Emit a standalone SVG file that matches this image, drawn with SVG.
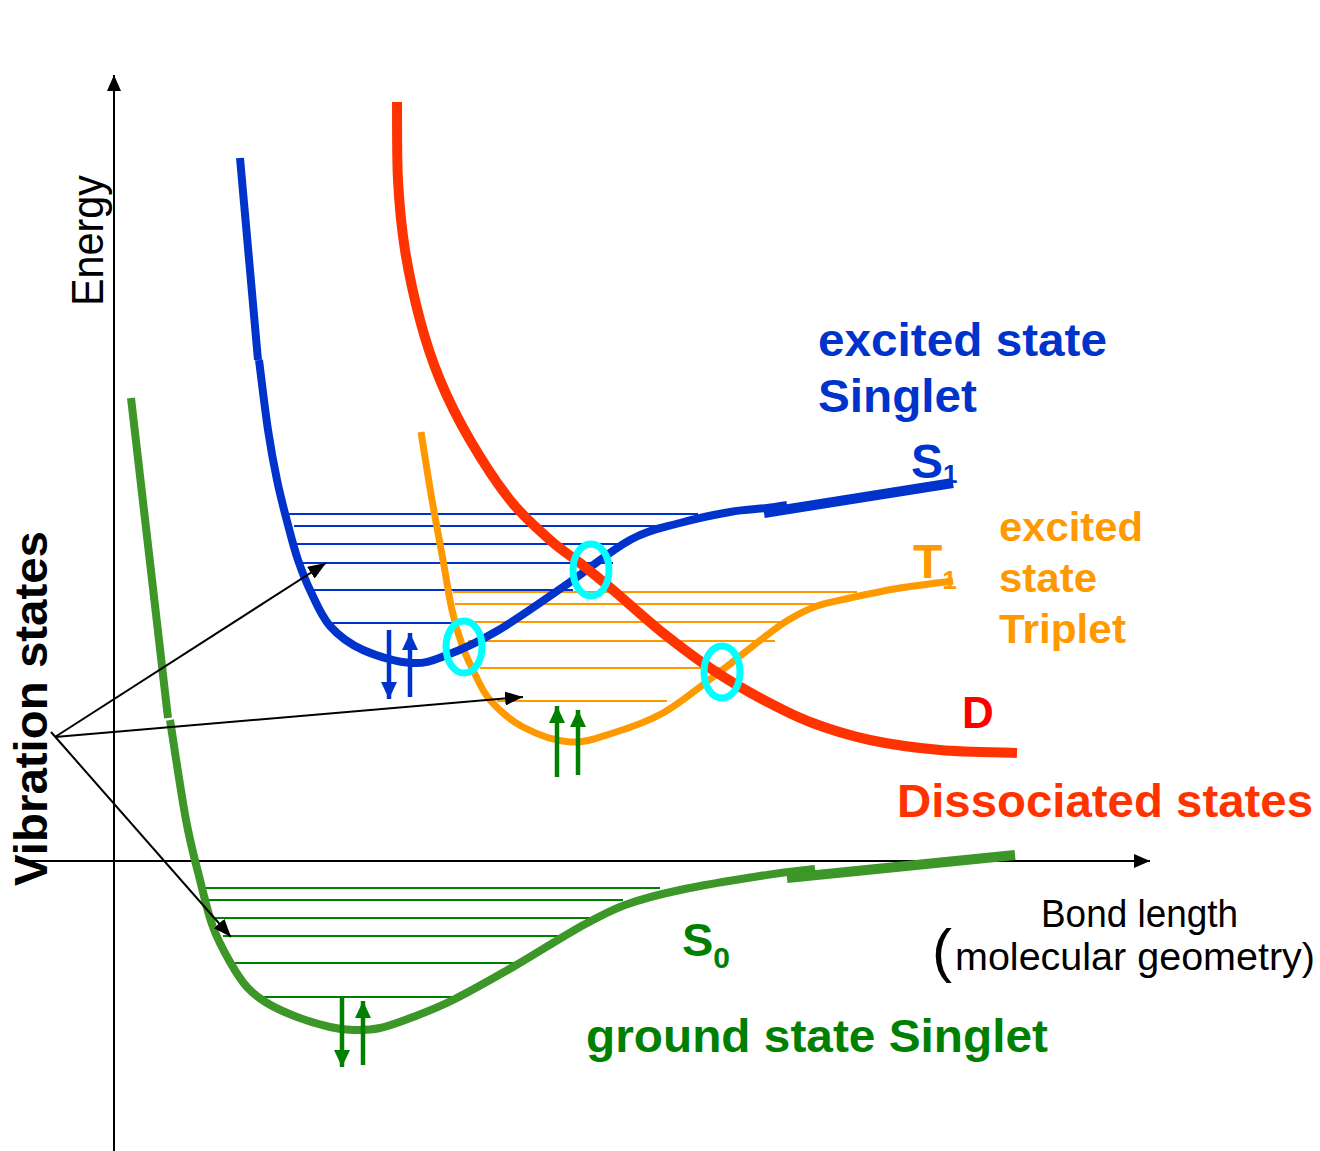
<svg xmlns="http://www.w3.org/2000/svg" width="1320" height="1151" viewBox="0 0 1320 1151">
<style>
.ax{stroke:#000;stroke-width:2;fill:none}
.ptr{stroke:#000;stroke-width:2;fill:none}
.curve{fill:none;stroke-linecap:butt;stroke-linejoin:round}
.lvb{stroke:#0033cc;stroke-width:2}
.lvo{stroke:#ff9900;stroke-width:2}
.lvg{stroke:#008000;stroke-width:2}
.spb{stroke:#0033cc;stroke-width:4.5;fill:none}
.spg{stroke:#008000;stroke-width:4.5;fill:none}
.ell{fill:none;stroke:#00ffff;stroke-width:7}
.lbl{font-family:"Liberation Sans",Arial,sans-serif;font-weight:bold}
.reg{font-family:"Liberation Sans",Arial,sans-serif}
</style>
<defs>
<marker id="ah" markerUnits="userSpaceOnUse" markerWidth="18" markerHeight="14" refX="18" refY="7" orient="auto"><path d="M0,0 L18,7 L0,14 z" fill="#000"/></marker>
<marker id="axh" markerUnits="userSpaceOnUse" markerWidth="16" markerHeight="14" refX="16" refY="7" orient="auto"><path d="M0,0 L16,7 L0,14 z" fill="#000"/></marker>
<marker id="bh" markerUnits="userSpaceOnUse" markerWidth="17" markerHeight="16" refX="17" refY="8" orient="auto"><path d="M0,0 L17,8 L0,16 z" fill="#0033cc"/></marker>
<marker id="gh" markerUnits="userSpaceOnUse" markerWidth="17" markerHeight="16" refX="17" refY="8" orient="auto"><path d="M0,0 L17,8 L0,16 z" fill="#008000"/></marker>
</defs>
<rect width="1320" height="1151" fill="#fff"/>

<g id="axes">
<line class="ax" x1="114" y1="1151" x2="114" y2="75" marker-end="url(#axh)"/>
<line class="ax" x1="15" y1="861" x2="1150" y2="861" marker-end="url(#axh)"/>
<text class="reg" font-size="44" textLength="131" lengthAdjust="spacingAndGlyphs" transform="translate(103,306) rotate(-90)" fill="#000">Energy</text>
<text class="reg" font-size="38" x="1041" y="927" textLength="197" lengthAdjust="spacingAndGlyphs" fill="#000">Bond length</text>
<text class="reg" font-size="60" x="932" y="971" fill="#000">(</text>
<text class="reg" font-size="38" x="955" y="970" textLength="360" lengthAdjust="spacingAndGlyphs" fill="#000">molecular geometry)</text>
</g>

<g id="S0-levels">
<line class="lvg" x1="206" y1="888" x2="660" y2="888"/>
<line class="lvg" x1="204" y1="900" x2="623" y2="900"/>
<line class="lvg" x1="208" y1="918" x2="593" y2="918"/>
<line class="lvg" x1="223" y1="936" x2="567" y2="936"/>
<line class="lvg" x1="232" y1="963" x2="518" y2="963"/>
<line class="lvg" x1="256" y1="997" x2="455" y2="997"/>
</g>

<g id="T1-levels">
<line class="lvo" x1="453" y1="592" x2="857" y2="592"/>
<line class="lvo" x1="455" y1="604" x2="825" y2="604"/>
<line class="lvo" x1="460" y1="622" x2="790" y2="622"/>
<line class="lvo" x1="468" y1="641" x2="775" y2="641"/>
<line class="lvo" x1="480" y1="668" x2="725" y2="668"/>
<line class="lvo" x1="497" y1="701" x2="667" y2="701"/>
</g>

<g id="S1-levels">
<line class="lvb" x1="288" y1="514" x2="698" y2="514"/>
<line class="lvb" x1="294" y1="526" x2="665" y2="526"/>
<line class="lvb" x1="296" y1="544" x2="627" y2="544"/>
<line class="lvb" x1="300" y1="563" x2="613" y2="563"/>
<line class="lvb" x1="310" y1="590" x2="573" y2="590"/>
<line class="lvb" x1="330" y1="623" x2="457" y2="623"/>
</g>

<g id="S0-curve" class="curve" stroke="#3c9628">
<path stroke-width="8" d="M131,398 L168,718"/>
<path stroke-width="8" d="M170,720 C172.7,736.7 181,793.3 186,820 C191,846.7 195.5,862.2 200,880 C204.5,897.8 208,913.3 213,927 C218,940.7 224.3,952 230,962 C235.7,972 240.8,980.2 247,987 C253.2,993.8 258.7,998 267,1003 C275.3,1008 286.5,1013 297,1017 C307.5,1021 320.7,1024.8 330,1027 C339.3,1029.2 344.7,1029.8 353,1030 C361.3,1030.2 370,1030.2 380,1028 C390,1025.8 400.8,1021.7 413,1017 C425.2,1012.3 436.3,1008.3 453,1000 C469.7,991.7 491.8,979.2 513,967 C534.2,954.8 561.3,937.3 580,927 C598.7,916.7 608.3,911.2 625,905 C641.7,898.8 657.5,894.8 680,890 C702.5,885.2 737.5,879.5 760,876 C782.5,872.5 805.8,870 815,869"/>
<path stroke-width="10" d="M787,878 L1015,855"/>
</g>

<g id="T1-curve" class="curve" stroke="#ff9900" stroke-width="7">
<path d="M421,432 C422.8,443.3 428.3,478.7 432,500 C435.7,521.3 439.7,541.7 443,560 C446.3,578.3 448.8,595.8 452,610 C455.2,624.2 458.5,635 462,645 C465.5,655 468.3,660.8 473,670 C477.7,679.2 481.7,690.5 490,700 C498.3,709.5 509.7,720 523,727 C536.3,734 555,741 570,742 C585,743 597.5,737.8 613,733 C628.5,728.2 646.3,722.3 663,713 C679.7,703.7 695.7,690 713,677 C730.3,664 754.2,644.7 767,635 C779.8,625.3 781.7,623.8 790,619 C798.3,614.2 807,609.5 817,606 C827,602.5 836.2,601 850,598 C863.8,595 882.8,590.8 900,588 C917.2,585.2 944.2,582.2 953,581"/>
</g>

<g id="S1-curve" class="curve" stroke="#0033cc">
<path stroke-width="8" d="M240,158 L258,360"/>
<path stroke-width="8" d="M259,360 C260.5,371.7 265,410 268,430 C271,450 273.7,464.2 277,480 C280.3,495.8 284.5,511.7 288,525 C291.5,538.3 294.3,549.2 298,560 C301.7,570.8 304.7,579 310,590 C315.3,601 321.2,616 330,626 C338.8,636 349.3,643.8 363,650 C376.7,656.2 398,662.2 412,663 C426,663.8 432.8,660.3 447,655 C461.2,649.7 477.7,642.3 497,631 C516.3,619.7 540.8,602.2 563,587 C585.2,571.8 610.5,550.7 630,540 C649.5,529.3 663.3,527.7 680,523 C696.7,518.3 715.5,514.5 730,512 C744.5,509.5 757.5,509.2 767,508 C776.5,506.8 783.7,505.5 787,505"/>
<path stroke-width="10" d="M764,513 L953,483"/>
</g>

<g id="D-curve" class="curve" stroke="#ff3300" stroke-width="10">
<path d="M397,102 C397.2,115 396.7,155.3 398,180 C399.3,204.7 401.3,226.7 405,250 C408.7,273.3 414.2,298.3 420,320 C425.8,341.7 431.7,360 440,380 C448.3,400 458.3,420 470,440 C481.7,460 496.7,483.3 510,500 C523.3,516.7 538.3,529.5 550,540 C561.7,550.5 569.5,554.7 580,563 C590.5,571.3 599.2,578.3 613,590 C626.8,601.7 646.3,619.7 663,633 C679.7,646.3 696.8,659.2 713,670 C729.2,680.8 743.8,689.3 760,698 C776.2,706.7 791.7,715 810,722 C828.3,729 848.3,735.3 870,740 C891.7,744.7 915.5,747.8 940,750 C964.5,752.2 1004.2,752.5 1017,753"/>
</g>

<g id="crossings">
<ellipse class="ell" cx="591" cy="570" rx="18" ry="26"/>
<ellipse class="ell" cx="464" cy="647" rx="18" ry="26"/>
<ellipse class="ell" cx="722" cy="672" rx="18" ry="26"/>
</g>

<g id="spins">
<line class="spb" x1="389" y1="630" x2="389" y2="699" marker-end="url(#bh)"/>
<line class="spb" x1="410" y1="697" x2="410" y2="633" marker-end="url(#bh)"/>
<line class="spg" x1="557" y1="777" x2="557" y2="706" marker-end="url(#gh)"/>
<line class="spg" x1="578" y1="775" x2="578" y2="710" marker-end="url(#gh)"/>
<line class="spg" x1="342" y1="997" x2="342" y2="1067" marker-end="url(#gh)"/>
<line class="spg" x1="363" y1="1065" x2="363" y2="1001" marker-end="url(#gh)"/>
</g>

<g id="connectors">
<line class="ptr" x1="55" y1="737" x2="326" y2="563" marker-end="url(#ah)"/>
<line class="ptr" x1="55" y1="737" x2="523" y2="697" marker-end="url(#ah)"/>
<line class="ptr" x1="51" y1="732" x2="231" y2="937" marker-end="url(#ah)"/>
</g>

<g id="labels">
<text class="lbl" font-size="47" transform="translate(47,886) rotate(-90)" fill="#000" textLength="355" lengthAdjust="spacingAndGlyphs">Vibration states</text>
<text class="lbl" font-size="46" x="818" y="356" fill="#0033cc" textLength="289" lengthAdjust="spacingAndGlyphs">excited state</text>
<text class="lbl" font-size="46" x="818" y="412" fill="#0033cc" textLength="159" lengthAdjust="spacingAndGlyphs">Singlet</text>
<text class="lbl" font-size="48" x="911" y="478" fill="#0033cc">S<tspan font-size="26" dy="5">1</tspan></text>
<text class="lbl" font-size="48" x="913" y="578" fill="#ff9900">T<tspan font-size="26" dy="11">1</tspan></text>
<text class="lbl" font-size="41" x="999" y="541" fill="#ff9900" textLength="144" lengthAdjust="spacingAndGlyphs">excited</text>
<text class="lbl" font-size="41" x="999" y="592" fill="#ff9900" textLength="98" lengthAdjust="spacingAndGlyphs">state</text>
<text class="lbl" font-size="41" x="999" y="643" fill="#ff9900" textLength="127" lengthAdjust="spacingAndGlyphs">Triplet</text>
<text class="lbl" font-size="44" x="962" y="728" fill="#ff0000">D</text>
<text class="lbl" font-size="47" x="897" y="817" fill="#ff3300" textLength="416" lengthAdjust="spacingAndGlyphs">Dissociated states</text>
<text class="lbl" font-size="47" x="682" y="956" fill="#008000">S<tspan font-size="30" dy="12">0</tspan></text>
<text class="lbl" font-size="47" x="586" y="1052" fill="#008000" textLength="462" lengthAdjust="spacingAndGlyphs">ground state Singlet</text>
</g>
</svg>
